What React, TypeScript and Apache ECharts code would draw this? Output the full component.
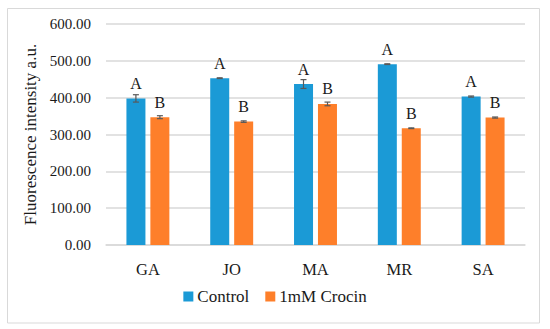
import React, { useEffect, useRef } from "react";
import * as echarts from "echarts";

const categories = ["GA", "JO", "MA", "MR", "SA"];
const controlValues = [398, 453, 437, 491, 403];
const controlErrors = [10, 1, 12, 1, 1.5];
const crocinValues = [347, 335, 383, 317, 346];
const crocinErrors = [4, 2, 5, 1, 1.5];
const controlLetters = ["A", "A", "A", "A", "A"];
const crocinLetters = ["B", "B", "B", "B", "B"];
const yTicks = [0, 100, 200, 300, 400, 500, 600];

const FONT = "Liberation Serif";
const BAR_W = 19;
const OFFSET = 12;

function errorSeries(values: number[], errors: number[], offset: number) {
  return {
    type: "custom",
    silent: true,
    z: 10,
    data: values.map((v, i) => [i, v - errors[i], v + errors[i]]),
    renderItem: (params: any, api: any) => {
      const i = api.value(0);
      const lo = api.coord([i, api.value(1)]);
      const hi = api.coord([i, api.value(2)]);
      const x = lo[0] + offset;
      const cap = 3;
      const style = { stroke: "#595959", lineWidth: 1.2 };
      return {
        type: "group",
        children: [
          { type: "line", shape: { x1: x, y1: lo[1], x2: x, y2: hi[1] }, style },
          { type: "line", shape: { x1: x - cap, y1: lo[1], x2: x + cap, y2: lo[1] }, style },
          { type: "line", shape: { x1: x - cap, y1: hi[1], x2: x + cap, y2: hi[1] }, style },
        ],
      };
    },
  };
}

export default function App() {
  const ref = useRef<HTMLDivElement>(null);
  useEffect(() => {
    if (!ref.current) return;
    const chart = echarts.init(ref.current, null, { renderer: "svg" });
    chart.setOption({
      animation: false,
      backgroundColor: "#ffffff",
      textStyle: { fontFamily: FONT },
      graphic: [
        {
          type: "rect",
          shape: { x: 7.5, y: 8.5, width: 532, height: 314.5 },
          style: { fill: "none", stroke: "#d9d9d9", lineWidth: 1 },
          silent: true,
        },
      ],
      grid: { left: 106, right: 25, top: 24, bottom: 84 },
      legend: {
        bottom: 19,
        left: "center",
        itemWidth: 10,
        itemHeight: 10,
        itemGap: 16,
        icon: "rect",
        textStyle: { fontFamily: FONT, fontSize: 17, color: "#1a1a1a", padding: [0, 0, 0, -1] },
        data: ["Control", "1mM Crocin"],
      },
      xAxis: {
        type: "category",
        data: categories,
        axisLine: { lineStyle: { color: "#d9d9d9", width: 1.5 } },
        axisTick: { show: false },
        axisLabel: { fontFamily: FONT, fontSize: 16.5, color: "#1a1a1a", margin: 16 },
      },
      yAxis: {
        type: "value",
        min: yTicks[0],
        max: yTicks[yTicks.length - 1],
        interval: 100,
        name: "Fluorescence intensity a.u.",
        nameLocation: "middle",
        nameGap: 64,
        nameTextStyle: { fontFamily: FONT, fontSize: 17, color: "#1a1a1a" },
        axisLine: { show: false },
        axisTick: { show: false },
        splitLine: { lineStyle: { color: "#d9d9d9", width: 1.5 } },
        axisLabel: {
          fontFamily: FONT,
          fontSize: 15,
          color: "#1a1a1a",
          margin: 15,
          formatter: (v: number) => v.toFixed(2),
        },
      },
      series: [
        {
          name: "Control",
          type: "bar",
          barWidth: BAR_W,
          barGap: "26%",
          itemStyle: { color: "#1b9ad6" },
          data: controlValues.map((v, i) => ({
            value: v,
            label: { formatter: controlLetters[i] },
          })),
          label: {
            show: true,
            position: "top",
            distance: 7,
            fontFamily: FONT,
            fontSize: 16,
            color: "#1a1a1a",
          },
        },
        {
          name: "1mM Crocin",
          type: "bar",
          barWidth: BAR_W,
          itemStyle: { color: "#fe7f2a" },
          data: crocinValues.map((v, i) => ({
            value: v,
            label: { formatter: crocinLetters[i] },
          })),
          label: {
            show: true,
            position: "top",
            distance: 7,
            fontFamily: FONT,
            fontSize: 16,
            color: "#1a1a1a",
          },
        },
        errorSeries(controlValues, controlErrors, -OFFSET),
        errorSeries(crocinValues, crocinErrors, OFFSET),
      ],
    });
    return () => chart.dispose();
  }, []);
  return (
    <div
      ref={ref}
      style={{ position: "fixed", left: 0, top: 0, width: 550, height: 329 }}
    />
  );
}
